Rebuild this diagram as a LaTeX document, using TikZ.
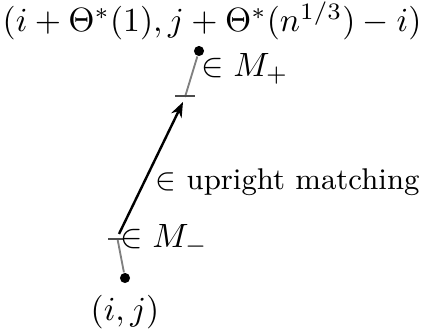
\documentclass[tikz,border=0pt]{standalone}
\usepackage{amsmath}
\usepackage{amssymb}
\usepackage{tikz}
\usetikzlibrary{arrows.meta,positioning}
\tikzset{
	endpt/.style={
		circle, fill=black, draw=none,
		inner sep=0pt, minimum size=3pt
	},
}

\begin{document}
\begin{tikzpicture}[x=0.297pt,y=-0.297pt,
			greyseg/.style={gray, line width=0.55pt},
			tick/.style={gray!60!black, line width=0.35pt},
			match_arrow/.style={-{Stealth[length=4.5pt,width=3.4pt]}, line width=0.72pt}]
		\useasboundingbox (0,0) rectangle (425,332);
		\node[endpt] (lo) at (125,278) {};
		\node[endpt] (hi) at (199,51) {};
		\coordinate (loT) at (117.5,239);
		\coordinate (hiT) at (185,97);
		\node[below=0pt of lo] (loLab) {$(i,j)$};
		\node at (212,21) (hiLab) {$(i+\Theta^*(1),j+\Theta^*(n^{1/3})-i)$};
		\draw[greyseg] (lo) -- (loT);
		\draw[greyseg] (hi) -- (hiT);
		\draw[tick] (108,239) -- (123,239);
		\draw[tick] (175,96) -- (195,96);
		\draw[match_arrow] (119,234) -- (183,102);
		\node[anchor=west, inner sep=0pt] at (120,240) {$\in M_-$};
		\node[anchor=west, inner sep=0pt] at (201,69) {$\in M_+$};
		\node[anchor=west, inner sep=0pt, font=\fontsize{8.9pt}{11pt}\selectfont] at (155,182) {$\in$ upright matching};
	\end{tikzpicture}
\end{document}
